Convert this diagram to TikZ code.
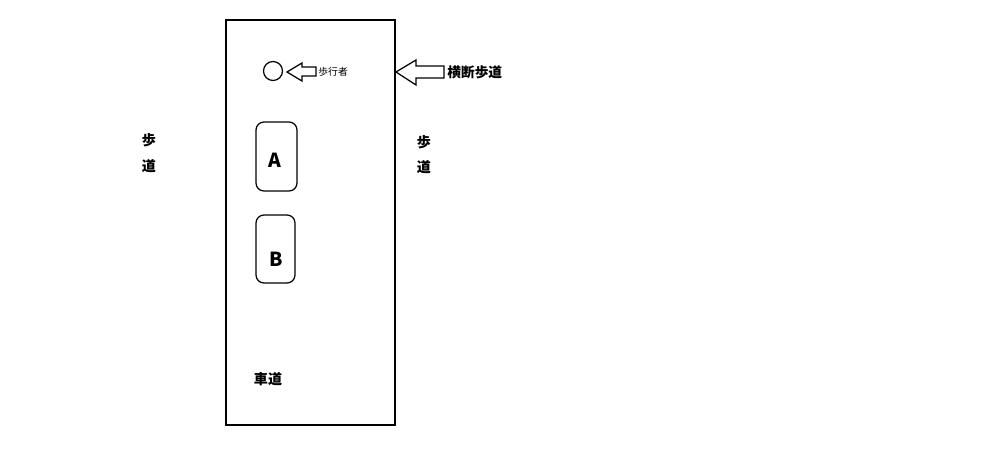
\documentclass[tikz,border=0pt]{standalone}
\usepackage{fontspec}
\newfontfamily\cjk{Noto Sans CJK JP}
\setmainfont{Noto Sans}
\begin{document}
\begin{tikzpicture}[x=0.02cm,y=-0.02cm,
  line/.style={draw=black,line width=0.7pt},
  car/.style={line, rounded corners=8*0.02cm},
  lbl/.style={inner sep=0pt,font=\cjk\bfseries\fontsize{8}{9}\selectfont},
  small/.style={inner sep=0pt,font=\cjk\fontsize{5.6}{6}\selectfont},
  big/.style={inner sep=0pt,font=\cjk\bfseries\fontsize{11}{12}\selectfont}]
\useasboundingbox (0,0) rectangle (999,454);
\draw[line] (226,20) rectangle (395,425);
% pedestrian
\node[line,circle,minimum size=19*0.02cm,inner sep=0pt] (ped) at (273,71) {};
\draw[line] (287,72) -- (302,63) -- (302,67) -- (316,67) -- (316,76) -- (302,76) -- (302,81) -- cycle;
\node[small,anchor=west] (pedt) at (318,72) {歩行者};
% crosswalk
\draw[line] (396,72) -- (416,60) -- (416,66) -- (444,66) -- (444,78) -- (416,78) -- (416,85) -- cycle;
\node[lbl,anchor=west,font=\cjk\bfseries\fontsize{7.8}{9}\selectfont] (cw) at (447,72) {横断歩道};
% sidewalks
\node[lbl] (l1) at (149,140) {歩};
\node[lbl] (l2) at (149,166) {道};
\node[lbl] (r1) at (424,142) {歩};
\node[lbl] (r2) at (424,167) {道};
% cars
\draw[car] (256,122) rectangle (297,191);
\node[big] (a) at (275,160) {A};
\draw[car] (256,215) rectangle (295,283);
\node[big] (b) at (276,259) {B};
% roadway
\node[lbl] (road) at (268,379) {車道};
\end{tikzpicture}
\end{document}
